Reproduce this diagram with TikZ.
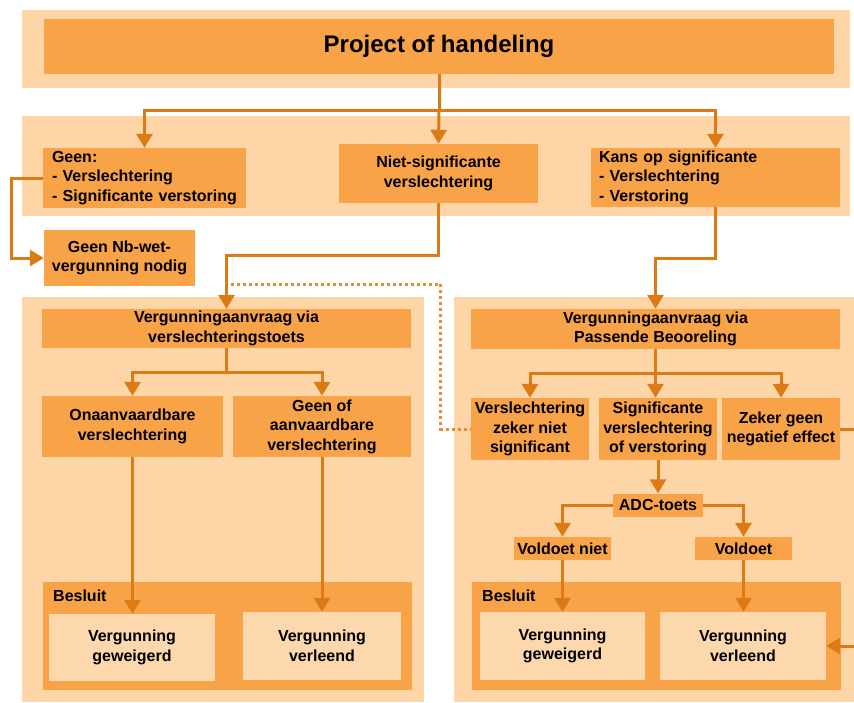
\documentclass[tikz,border=0pt]{standalone}
\usepackage{fontspec}
\setmainfont{Liberation Sans}
\usetikzlibrary{arrows.meta,calc,positioning}

\definecolor{bandpeach}{HTML}{FDD5A6}
\definecolor{boxorange}{HTML}{F9A349}
\definecolor{innerpeach}{HTML}{FDD8AC}
\definecolor{linkorange}{HTML}{DC7A16}
\newcommand{\boxfont}{\fontsize{16}{19.5}\selectfont\bfseries}

\begin{document}
\begin{tikzpicture}[x=1pt,y=-1pt,
  box/.style={fill=boxorange,inner sep=2pt,align=center,font=\boxfont},
  leftbox/.style={fill=boxorange,inner ysep=2pt,align=left,font=\boxfont},
  endbox/.style={fill=innerpeach,inner sep=2pt,align=center,font=\boxfont},
  link/.style={draw=linkorange,line width=3pt},
  arr/.style={link,-{Triangle[width=16pt,length=14pt]}},
  dotline/.style={draw=linkorange!85,line width=3pt,dash pattern=on 3pt off 3pt}]
\clip (0,0) rectangle (854,702);
%\draw[help lines,step=50,dashed] (0,0) grid (854,702);

% bands
\fill[bandpeach] (22,10) rectangle (850,88);
\fill[bandpeach] (22,116) rectangle (850,216);
\fill[bandpeach] (22,297) rectangle (424,702);
\fill[bandpeach] (454,297) rectangle (854,702);
\fill[boxorange] (43,582) rectangle (412,690);
\fill[boxorange] (472,582) rectangle (841,690);

\node[box,minimum width=790,minimum height=55,font=\fontsize{24}{28}\selectfont\bfseries] (title)
  at (439,46.5) {Project of handeling};

\node[leftbox,inner xsep=9pt,text width=185pt,minimum height=60] (geen)
  at (144.5,178) {Geen:\\- Verslechtering\\- Significante verstoring};
\node[box,minimum width=199,minimum height=59] (niet)
  at (438.5,173.5) {Niet-significante\\verslechtering};
\node[leftbox,inner xsep=8pt,text width=233pt,minimum height=59] (kans)
  at (715.5,177.5) {Kans op significante\\- Verslechtering\\- Verstoring};
\node[box,minimum width=151,minimum height=56] (nbwet)
  at (119.5,258) {Geen Nb-wet-\\vergunning nodig};

% verslechteringstoets
\node[box,minimum width=369,minimum height=39] (lefthead)
  at (226.5,328.5) {Vergunningaanvraag via\\verslechteringstoets};
\node[box,minimum width=181,minimum height=61] (onaan)
  at (132.5,426.5) {Onaanvaardbare\\verslechtering};
\node[box,minimum width=178,minimum height=61] (geenof)
  at (322,426.5) {Geen of\\aanvaardbare\\verslechtering};
\node[anchor=west,font=\boxfont,inner sep=0pt] (leftbesluit) at (53,596) {Besluit};
\node[endbox,minimum width=166,minimum height=67] (leftgew)
  at (132,647.5) {Vergunning\\geweigerd};
\node[endbox,minimum width=158,minimum height=68] (leftverl)
  at (322,646) {Vergunning\\verleend};

% passende beoordeling
\node[box,minimum width=369,minimum height=40] (righthead)
  at (655.5,329) {Vergunningaanvraag via\\Passende Beooreling};
\node[box,minimum width=118,minimum height=62] (zekerniet)
  at (530,429) {Verslechtering\\zeker niet\\significant};
\node[box,minimum width=118,minimum height=62] (signif)
  at (658,429) {Significante\\verslechtering\\of verstoring};
\node[box,minimum width=118,minimum height=62] (zekergeen)
  at (781,429) {Zeker geen\\negatief effect};
\node[box,minimum width=90,minimum height=23] (adc) at (658,505) {ADC-toets};
\node[box,minimum width=97,minimum height=23] (vniet) at (562.5,548.5) {Voldoet niet};
\node[box,minimum width=97,minimum height=23] (vold) at (743.5,548.5) {Voldoet};
\node[anchor=west,font=\boxfont,inner sep=0pt] (rightbesluit) at (482,596) {Besluit};
\node[endbox,minimum width=165,minimum height=68] (rightgew)
  at (562.5,646) {Vergunning\\geweigerd};
\node[endbox,minimum width=166,minimum height=68] (rightverl)
  at (743,646) {Vergunning\\verleend};

% connectors
\draw[link] (title.south) -- ++(0,36) coordinate (split);
\draw[arr] (split) -| (geen.north);
\draw[arr] (split) -- (niet.north);
\draw[arr] (split) -| (kans.north);
\draw[arr] (geen.west) -- ++(-31,0) |- (nbwet.west);
\draw[arr] (niet.south) -- ++(0,52) -| (lefthead.north);
\draw[arr] (kans.south) -- ++(0,51) -| (righthead.north);
\coordinate (dotstart) at (231,284);
\draw[dotline] (dotstart) -| ($(zekerniet.west)+(-30,0)$) -- (zekerniet.west);

\draw[arr] (lefthead.south) -- ++(0,24) -| (onaan.north);
\draw[arr] (lefthead.south) -- ++(0,24) -| (geenof.north);
\draw[arr] (onaan.south) -- (onaan.south |- leftgew.north);
\draw[arr] (geenof.south) -- (geenof.south |- leftverl.north);

\draw[arr] (righthead.south) -- ++(0,24) -| (zekerniet.north);
\draw[arr] (righthead.south) -- (righthead.south |- signif.north);
\draw[arr] (righthead.south) -- ++(0,24) -| (zekergeen.north);
\draw[arr] (signif.south) -- (adc.north);
\draw[arr] (adc.west) -| (vniet.north);
\draw[arr] (adc.east) -| (vold.north);
\draw[arr] (vniet.south) -- (vniet.south |- rightgew.north);
\draw[arr] (vold.south) -- (vold.south |- rightverl.north);
\draw[arr] (zekergeen.east) -- ++(20,0) |- (rightverl.east);
\end{tikzpicture}
\end{document}
